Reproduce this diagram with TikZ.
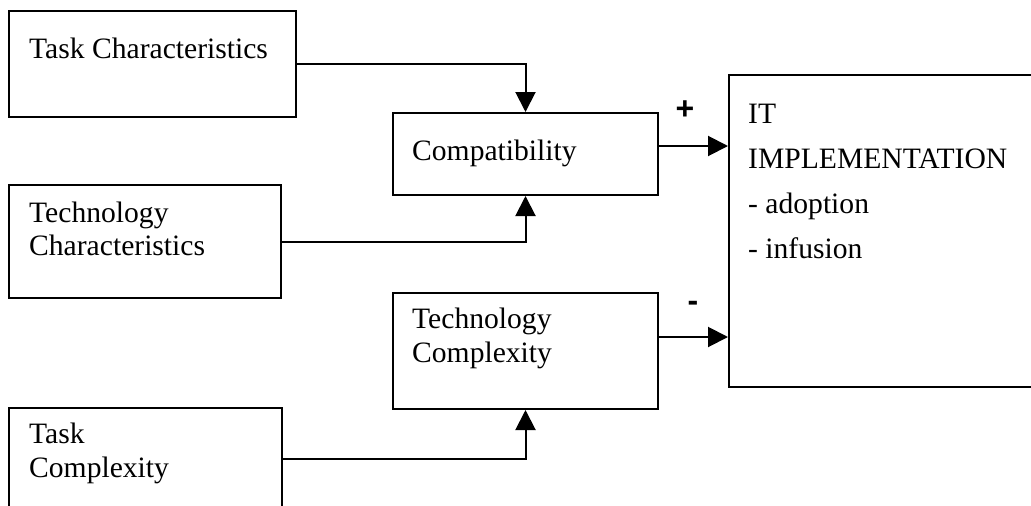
\documentclass[tikz,border=0pt]{standalone}
\usepackage{fontspec}
\setmainfont{Liberation Serif}
\newfontfamily\signfont{Liberation Sans}
\usetikzlibrary{arrows.meta}
\begin{document}
\begin{tikzpicture}[x=1pt,y=-1pt,
  box/.style={draw,line width=2pt,rectangle,inner sep=0pt,anchor=north west},
  lbl/.style={inner sep=0pt,anchor=base west,align=left,font=\fontsize{29.6}{33.5}\selectfont},
  conn/.style={line width=2pt,-{Triangle[length=20pt,width=20pt]}},
  sign/.style={inner sep=0pt,font=\signfont\bfseries\fontsize{32}{32}\selectfont}]
\useasboundingbox (0,0) rectangle (1031,506);
\clip (0,0) rectangle (1031,506);
% boxes
\node[box,minimum width=287pt,minimum height=106pt] (tc) at (8,10) {};
\node[box,minimum width=272pt,minimum height=113pt] (tch) at (8,184) {};
\node[box,minimum width=273pt,minimum height=102pt] (tcx) at (8,407) {};
\node[box,minimum width=265pt,minimum height=82pt] (comp) at (392,112) {};
\node[box,minimum width=265pt,minimum height=116pt] (tcomp) at (392,292) {};
\node[box,minimum width=320pt,minimum height=312pt] (it) at (728,74) {};
% texts
\node[lbl] (tctext) at (29,58) {Task Characteristics};
\node[lbl] (tchtext1) at (29,222) {Technology};
\node[lbl] (tchtext2) at (29,255) {Characteristics};
\node[lbl] (tcxtext1) at (29,443) {Task};
\node[lbl] (tcxtext2) at (29,477) {Complexity};
\node[lbl] (comptext) at (412,160) {Compatibility};
\node[lbl] (tcomptext1) at (412,328) {Technology};
\node[lbl] (tcomptext2) at (412,362) {Complexity};
\node[lbl] (ittext1) at (748,123) {IT};
\node[lbl] (ittext2) at (748,168) {IMPLEMENTATION};
\node[lbl] (ittext3) at (748,213) {- adoption};
\node[lbl] (ittext4) at (748,258) {- infusion};
% signs
\node[sign] (plus) at (685,110) {+};
\node[sign] (minus) at (693,306) {-};
% connectors
\coordinate (p1) at (728,146);
\coordinate (p2) at (728,337);
\draw[conn] (tc.east) -| (comp.north);
\draw[conn] (tch.east) -| (comp.south);
\draw[conn] (tcx.east) -| (tcomp.south);
\draw[conn] (comp.east |- p1) -- (p1);
\draw[conn] (tcomp.east |- p2) -- (p2);
\end{tikzpicture}
\end{document}
